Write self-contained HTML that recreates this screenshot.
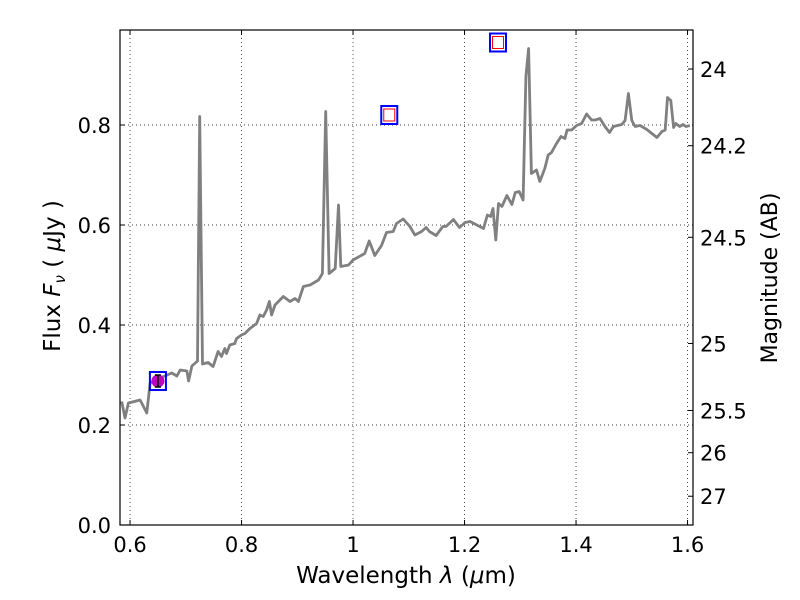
<!DOCTYPE html>
<html><head><meta charset="utf-8">
<style>
html,body{margin:0;padding:0;background:#fff;}
svg{display:block;font-family:"DejaVu Sans","Liberation Sans",sans-serif;}
</style></head>
<body>
<svg id="chart" width="800" height="600" viewBox="0 0 800 600" xmlns="http://www.w3.org/2000/svg">
<rect width="800" height="600" fill="#fff"/>
<g id="grid"></g>
<g id="series"></g>
<g id="marks"></g>
<rect x="120" y="30" width="573" height="495" fill="none" stroke="#000" stroke-width="1.2"/>
<g id="ticks"></g>
<text x="406" y="583" font-size="23" text-anchor="middle">Wavelength  <tspan font-style="italic">λ</tspan> (<tspan font-style="italic">μ</tspan>m)</text>
<text transform="translate(60,276) rotate(-90)" font-size="23" text-anchor="middle">Flux  <tspan font-style="italic">F</tspan><tspan font-style="italic" font-size="15" dy="5">ν</tspan><tspan dy="-5">  ( </tspan><tspan font-style="italic">μ</tspan>Jy )</text>
<text transform="translate(777,278) rotate(-90)" font-size="22" text-anchor="middle">Magnitude (AB)</text>
</svg>
<script>
const wavelengths=[0.585,0.591,0.597,0.618,0.630,0.636,0.654,0.675,0.684,0.690,0.702,0.705,0.711,0.721,0.725,0.730,0.740,0.749,0.758,0.764,0.770,0.773,0.779,0.788,0.791,0.800,0.806,0.815,0.827,0.833,0.839,0.845,0.850,0.854,0.860,0.875,0.887,0.896,0.902,0.911,0.923,0.938,0.945,0.951,0.957,0.968,0.974,0.978,0.992,1.000,1.021,1.029,1.039,1.051,1.060,1.072,1.078,1.090,1.102,1.111,1.123,1.131,1.137,1.149,1.161,1.167,1.180,1.191,1.201,1.210,1.222,1.234,1.241,1.247,1.251,1.256,1.261,1.267,1.276,1.285,1.291,1.298,1.305,1.310,1.315,1.320,1.329,1.335,1.344,1.350,1.356,1.365,1.373,1.380,1.384,1.392,1.401,1.410,1.419,1.428,1.434,1.443,1.452,1.460,1.467,1.482,1.488,1.494,1.500,1.506,1.515,1.527,1.536,1.545,1.554,1.560,1.564,1.570,1.575,1.579,1.586,1.592,1.597,1.604];
const fluxes=[0.247,0.214,0.244,0.250,0.224,0.284,0.294,0.304,0.298,0.310,0.308,0.288,0.318,0.328,0.817,0.322,0.325,0.317,0.347,0.337,0.353,0.343,0.360,0.363,0.373,0.380,0.383,0.393,0.403,0.420,0.417,0.430,0.447,0.420,0.440,0.457,0.447,0.453,0.447,0.477,0.480,0.490,0.503,0.827,0.503,0.513,0.640,0.517,0.520,0.530,0.543,0.568,0.539,0.559,0.585,0.587,0.603,0.612,0.597,0.580,0.587,0.595,0.587,0.579,0.597,0.597,0.611,0.595,0.605,0.607,0.600,0.593,0.620,0.617,0.633,0.570,0.643,0.637,0.659,0.641,0.665,0.667,0.650,0.897,0.953,0.703,0.710,0.687,0.713,0.740,0.745,0.763,0.777,0.773,0.790,0.790,0.799,0.803,0.822,0.810,0.810,0.813,0.797,0.785,0.797,0.801,0.809,0.863,0.809,0.797,0.799,0.791,0.783,0.775,0.787,0.790,0.855,0.849,0.795,0.803,0.797,0.801,0.797,0.799];
const photWave=[0.650,1.065,1.260];
const photFlux=[0.288,0.820,0.965];
const photErr=[0.012,0,0];
const xTicks=[0.6,0.8,1.0,1.2,1.4,1.6];
const xTickLabels=["0.6","0.8","1","1.2","1.4","1.6"];
const yTicks=[0,0.2,0.4,0.6,0.8];
const yTickLabels=["0.0","0.2","0.4","0.6","0.8"];
const magTicks=[24,24.2,24.5,25,25.5,26,27];
const magTickLabels=["24","24.2","24.5","25","25.5","26","27"];

const X0=120,X1=693,Y0=525,Y1=30,LMIN=0.582,LMAX=1.6098,FMIN=0,FMAX=0.99;
const sx=v=>X0+(v-LMIN)/(LMAX-LMIN)*(X1-X0);
const sy=v=>Y0-(v-FMIN)/(FMAX-FMIN)*(Y0-Y1);
const magToFlux=m=>Math.pow(10,(23.9-m)/2.5);
const NS="http://www.w3.org/2000/svg";
function mk(tag,parent,attrs){const e=document.createElementNS(NS,tag);for(const k in attrs)e.setAttribute(k,attrs[k]);parent.appendChild(e);return e;}
const grid=document.getElementById('grid'),ticks=document.getElementById('ticks'),series=document.getElementById('series'),marks=document.getElementById('marks');

xTicks.forEach((t,i)=>{
  const x=sx(t);
  const g=mk('line',grid,{x1:x,x2:x,y1:Y1,y2:Y0,stroke:'#000','stroke-width':0.7,'stroke-dasharray':'1,3'});
  
  
  const a=mk('line',ticks,{x1:x,x2:x,y1:Y0,y2:Y0-5,stroke:'#000'});
  
  
  const b=mk('line',ticks,{x1:x,x2:x,y1:Y1,y2:Y1+5,stroke:'#000'});
  
  
  const l=mk('text',ticks,{x:x,y:Y0+27,'font-size':21,'text-anchor':'middle'});
  l.textContent=xTickLabels[i];
  
  
});
yTicks.forEach((t,i)=>{
  const y=sy(t);
  if(t>0){const g=mk('line',grid,{x1:X0,x2:X1,y1:y,y2:y,stroke:'#000','stroke-width':0.7,'stroke-dasharray':'1,3'});
  
  }
  const a=mk('line',ticks,{x1:X0,x2:X0+5,y1:y,y2:y,stroke:'#000'});
  
  
  const l=mk('text',ticks,{x:X0-9,y:y+8,'font-size':21,'text-anchor':'end'});
  l.textContent=yTickLabels[i];
  
  
});
magTicks.forEach((m,i)=>{
  const y=sy(magToFlux(m));
  const a=mk('line',ticks,{x1:X1,x2:X1-5,y1:y,y2:y,stroke:'#000'});
  
  
  const l=mk('text',ticks,{x:X1+7,y:y+8,'font-size':21,'text-anchor':'start'});
  l.textContent=magTickLabels[i];
  
  
});
const pts=wavelengths.map((w,i)=>sx(w).toFixed(1)+','+sy(fluxes[i]).toFixed(1)).join(' ');
const line=mk('polyline',series,{points:pts,fill:'none',stroke:'#808080','stroke-width':2.8,'stroke-linejoin':'round'});



photWave.forEach((w,i)=>{
  const x=sx(w),y=sy(photFlux[i]);
  const sq=mk('rect',marks,{x:x-8,y:y-9,width:16,height:18,fill:'none',stroke:'#0000ff','stroke-width':2});
  
  
  if(i===0){
    const c=mk('circle',marks,{cx:x,cy:y,r:6.5,fill:'#bf00bf'});
    
    
    const e1=sy(photFlux[i]+photErr[i]),e2=sy(photFlux[i]-photErr[i]);
    const eb=mk('path',marks,{d:`M${x},${e1}V${e2}M${x-3},${e1}H${x+3}M${x-3},${e2}H${x+3}`,stroke:'#000','stroke-width':1.6,fill:'none'});
    
    
  } else {
    const r=mk('rect',marks,{x:x-5.5,y:y-6,width:11,height:12,fill:'#fff',stroke:'#ff0000','stroke-width':1});
    
    
  }
});
</script>
</body></html>
